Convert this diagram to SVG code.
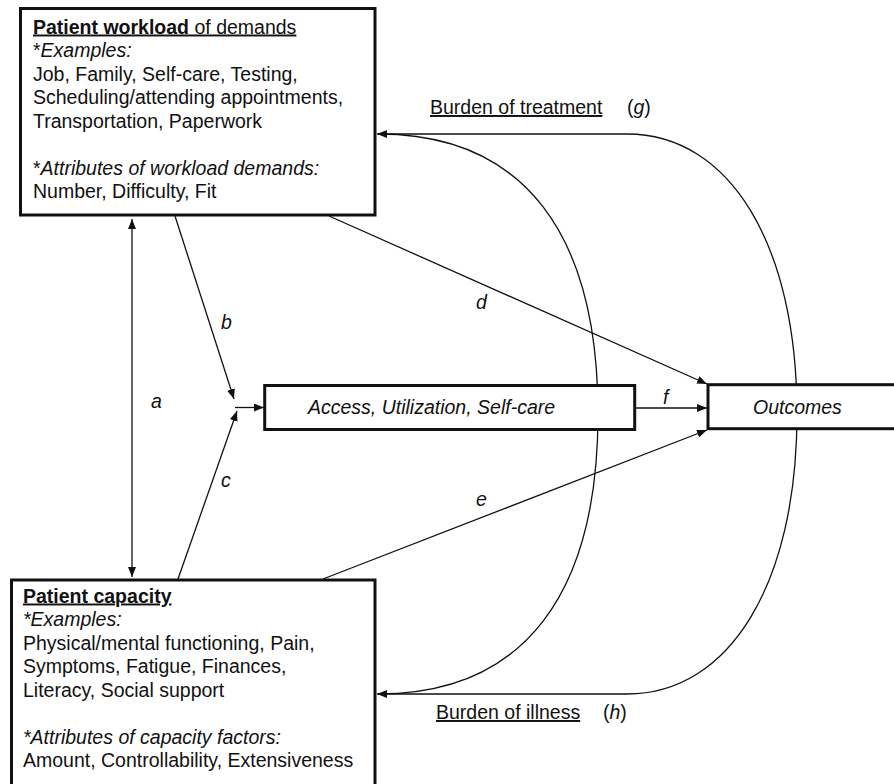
<svg xmlns="http://www.w3.org/2000/svg" width="894" height="784" viewBox="0 0 894 784">
<style>
text{font-family:"Liberation Sans",Arial,sans-serif;font-size:19.5px;fill:#111}
.i{font-style:italic}
.b{font-weight:bold}
.u{text-decoration:underline}
.box{fill:#fff;stroke:#111;stroke-width:3}
.ln{fill:none;stroke:#111;stroke-width:1.3}
</style>
<defs>
<marker id="ah" viewBox="0 0 10 8" refX="10" refY="4" markerWidth="10" markerHeight="8" markerUnits="userSpaceOnUse" orient="auto-start-reverse">
<path d="M0,0 L10,4 L0,8 Z" fill="#111"/>
</marker>
</defs>
<rect width="894" height="784" fill="#fff"/>
<g id="connectors">
<line class="ln" x1="132" y1="219" x2="132" y2="577" marker-start="url(#ah)" marker-end="url(#ah)"/>
<line class="ln" x1="175" y1="216" x2="234" y2="399" marker-end="url(#ah)"/>
<line class="ln" x1="178" y1="579" x2="237" y2="411" marker-end="url(#ah)"/>
<line class="ln" x1="235" y1="407.5" x2="264" y2="407.5" marker-end="url(#ah)"/>
<line class="ln" x1="329" y1="216" x2="707" y2="384" marker-end="url(#ah)"/>
<line class="ln" x1="323" y1="579" x2="707" y2="430" marker-end="url(#ah)"/>
<line class="ln" x1="635" y1="408" x2="707" y2="408" marker-end="url(#ah)"/>
<path class="ln" d="M797,414 C797,245 730,134 627,134 H377" marker-end="url(#ah)"/>
<path class="ln" d="M797,414 C797,583 730,694 627,694 H377" marker-end="url(#ah)"/>
<path class="ln" d="M598,414 C598,235 525,134 378,134"/>
<path class="ln" d="M598,414 C598,593 525,694 378,694"/>
</g>
<g id="labels">
<text class="i" x="151" y="408">a</text>
<text class="i" x="221" y="329">b</text>
<text class="i" x="221" y="487">c</text>
<text class="i" x="476" y="309">d</text>
<text class="i" x="476" y="506">e</text>
<text class="i" x="663" y="404">f</text>
<text x="430" y="114"><tspan class="u">Burden of treatment</tspan></text>
<text x="627" y="114">(<tspan class="i">g</tspan>)</text>
<text x="436" y="719"><tspan class="u">Burden of illness</tspan></text>
<text x="603" y="719">(<tspan class="i">h</tspan>)</text>
</g>
<g id="workload">
<rect class="box" x="20.5" y="8.5" width="354.5" height="206.5"/>
<text x="33" y="33.5" class="u"><tspan class="b">Patient workload</tspan> of demands</text>
<text x="33" y="57">*<tspan class="i">Examples:</tspan></text>
<text x="33" y="80.5">Job, Family, Self-care, Testing,</text>
<text x="33" y="104">Scheduling/attending appointments,</text>
<text x="33" y="127.5">Transportation, Paperwork</text>
<text x="33" y="174.5">*<tspan class="i">Attributes of workload demands:</tspan></text>
<text x="33" y="198">Number, Difficulty, Fit</text>
</g>
<g id="capacity">
<rect class="box" x="11.5" y="580" width="363.5" height="220"/>
<text x="23" y="602.5" class="b u">Patient capacity</text>
<text x="23" y="626" class="i">*Examples:</text>
<text x="23" y="649.5">Physical/mental functioning, Pain,</text>
<text x="23" y="673">Symptoms, Fatigue, Finances,</text>
<text x="23" y="696.5">Literacy, Social support</text>
<text x="23" y="743.5" class="i">*Attributes of capacity factors:</text>
<text x="23" y="767">Amount, Controllability, Extensiveness</text>
</g>
<g id="access">
<rect class="box" x="264.7" y="385.5" width="370" height="44"/>
<text x="308" y="414" class="i">Access, Utilization, Self-care</text>
</g>
<g id="outcomes">
<rect class="box" x="708" y="384.7" width="200" height="44"/>
<text x="753" y="414" class="i">Outcomes</text>
</g>
</svg>
